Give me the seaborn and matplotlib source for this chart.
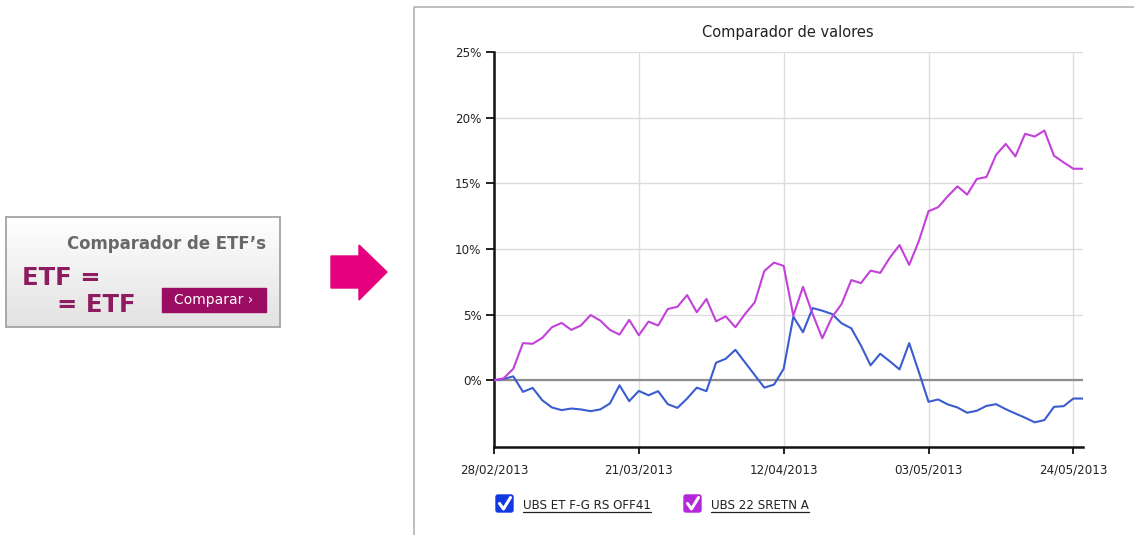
import numpy as np
import pandas as pd
import matplotlib
matplotlib.use("Agg")
import matplotlib.pyplot as plt
import seaborn as sns
from matplotlib.patches import Rectangle, Polygon, FancyBboxPatch
from matplotlib.colors import LinearSegmentedColormap

# ---- data -------------------------------------------------------------
series_names = ["UBS ET F-G RS OFF41", "UBS 22 SRETN A"]

# cumulative return (%) per trading session
ubs_etf_fg = [
    0.00, 0.10, 0.30, -0.88, -0.58, -1.52, -2.07, -2.27, -2.15, -2.22,
    -2.35, -2.22, -1.77, -0.38, -1.59, -0.81, -1.14, -0.83, -1.82, -2.10,
    -1.39, -0.56, -0.83, 1.34, 1.64, 2.32, 1.36, 0.40, -0.56, -0.33,
    0.88, 4.85, 3.66, 5.50, 5.30, 5.05, 4.34, 3.96, 2.65, 1.14,
    2.02, 1.44, 0.83, 2.83, 0.63, -1.64, -1.46, -1.84, -2.07, -2.47,
    -2.32, -1.95, -1.82, -2.20, -2.53, -2.85, -3.20, -3.03, -2.02, -1.97,
    -1.39, -1.39,
]
ubs_22_sretn = [
    0.00, 0.15, 0.88, 2.83, 2.78, 3.23, 4.04, 4.37, 3.84, 4.17,
    4.97, 4.55, 3.84, 3.48, 4.60, 3.43, 4.47, 4.17, 5.43, 5.60,
    6.49, 5.18, 6.19, 4.49, 4.87, 4.04, 5.05, 5.93, 8.33, 8.96,
    8.71, 4.92, 7.12, 5.05, 3.20, 4.80, 5.81, 7.63, 7.40, 8.35,
    8.18, 9.34, 10.30, 8.79, 10.60, 12.88, 13.18, 14.02, 14.77, 14.14,
    15.33, 15.48, 17.17, 18.00, 17.05, 18.77, 18.56, 19.02, 17.10, 16.59,
    16.11, 16.11,
]

date_labels = ["28/02/2013", "21/03/2013", "12/04/2013", "03/05/2013", "24/05/2013"]
date_sessions = [0, 15, 30, 45, 60]
pct_ticks = [0, 5, 10, 15, 20, 25]

title = "Comparador de valores"
widget_title = "Comparador de ETF\u2019s"
widget_line1 = "ETF ="
widget_line2 = "= ETF"
widget_button = "Comparar \u203a"

# ---- style ------------------------------------------------------------
sns.set_theme(style="white")
plt.rcParams["font.family"] = ["DejaVu Sans"]

BLUE = "#3a5ccf"
PURPLE = "#c241d9"
BOX_BLUE = "#1238e0"
BOX_PURPLE = "#b526d9"
TXT = "#222222"
MAROON = "#8e1b5f"

W, H = 1134, 535
fig = plt.figure(figsize=(W / 100, H / 100), dpi=100)
fig.patch.set_facecolor("white")

# pixel-space layer for the widget, arrow, panel frame and legend
deco = fig.add_axes([0, 0, 1, 1], zorder=0)
deco.set_xlim(0, W)
deco.set_ylim(H, 0)
deco.set_autoscale_on(False)
deco.axis("off")

# ---- left widget ------------------------------------------------------
grad = np.linspace(0, 1, 128).reshape(-1, 1)
cmap = LinearSegmentedColormap.from_list("wg", ["#ffffff", "#e2e2e2"])
deco.imshow(grad, cmap=cmap, extent=(6, 280, 327, 217), aspect="auto",
            zorder=1, interpolation="bilinear")
deco.add_patch(Rectangle((6, 217), 274, 110, fill=False, ec="#a3a3a3",
                         lw=1.3, zorder=2))
deco.text(266, 244, widget_title, ha="right", va="center", fontsize=11.9,
          fontweight="bold", color="#686868", zorder=3)
deco.text(22, 278, widget_line1, ha="left", va="center", fontsize=17.5,
          fontweight="bold", color=MAROON, zorder=3)
deco.text(57, 305, widget_line2, ha="left", va="center", fontsize=17.5,
          fontweight="bold", color=MAROON, zorder=3)
deco.add_patch(Rectangle((162, 288), 104, 24, color="#9a0d62", zorder=2))
deco.text(214, 300, widget_button, ha="center", va="center", fontsize=10,
          color="white", zorder=3)

# ---- arrow ------------------------------------------------------------
deco.add_patch(Polygon([(331, 256), (359, 256), (359, 245), (387, 272),
                        (359, 300), (359, 288), (331, 288)],
                       closed=True, color="#e5007d", zorder=2))

# ---- chart panel frame ------------------------------------------------
deco.plot([414, 414, W], [H, 7, 7], color="#b4b4b4", lw=1.2, zorder=1)
deco.text(788, 32, title, ha="center", va="center", fontsize=10.5, color=TXT)

# ---- line chart -------------------------------------------------------
n = len(ubs_etf_fg)
session = np.arange(n)
df = pd.DataFrame({
    "session": np.tile(session, 2),
    "ret": ubs_etf_fg + ubs_22_sretn,
    "fund": np.repeat(series_names, n),
})

ax = fig.add_axes([494 / W, 1 - 447 / H, (1083 - 494) / W, (447 - 52) / H],
                  zorder=1)
ax.patch.set_alpha(0)
sns.lineplot(data=df, x="session", y="ret", hue="fund",
             palette=[BLUE, PURPLE], linewidth=1.5, legend=False,
             ax=ax, zorder=3)

ax.set_xlim(0, n - 1)
ax.set_ylim(-5.08, 25)
ax.set_xticks(date_sessions)
ax.set_xticklabels(date_labels)
ax.set_yticks(pct_ticks)
ax.set_yticklabels([f"{v}%" for v in pct_ticks])
ax.set_xlabel("")
ax.set_ylabel("")

ax.grid(True, color="#dcdcdc", lw=1.0)
ax.set_axisbelow(True)
ax.axhline(0, color="#8f8f8f", lw=1.6, zorder=2)

for side in ("top", "right"):
    ax.spines[side].set_visible(False)
for side in ("left", "bottom"):
    ax.spines[side].set_color("#111111")
    ax.spines[side].set_linewidth(1.8)

ax.tick_params(axis="x", bottom=True, direction="out", length=5, width=1.3,
               color="#111111", labelsize=8.6, labelcolor=TXT, pad=7)
ax.tick_params(axis="y", left=True, direction="out", length=6, width=1.3,
               color="#111111", labelsize=8.6, labelcolor=TXT, pad=3)

# ---- legend with check boxes -----------------------------------------
fig.canvas.draw()
renderer = fig.canvas.get_renderer()
legend_items = [(495, BOX_BLUE), (683, BOX_PURPLE)]
for (bx, bcol), name in zip(legend_items, series_names):
    by, s = 494, 19
    deco.add_patch(FancyBboxPatch((bx + 1, by + 1), s - 2, s - 2,
                                  boxstyle="round,pad=0,rounding_size=2",
                                  fc=bcol, ec=bcol, lw=1, zorder=2))
    deco.plot([bx + 4.5, bx + 8.5, bx + 15.5],
              [by + 9.5, by + 15, by + 3.5],
              color="white", lw=2.2, solid_capstyle="round",
              solid_joinstyle="round", zorder=3)
    tx = bx + 28
    t = deco.text(tx, 509, name, ha="left", va="baseline", fontsize=8.6,
                  color=TXT, zorder=3)
    bb = t.get_window_extent(renderer=renderer)
    deco.plot([tx, tx + bb.width], [511.5, 511.5], color=TXT, lw=0.9,
              zorder=3)

fig.savefig("out.png", dpi=100, facecolor="white")
